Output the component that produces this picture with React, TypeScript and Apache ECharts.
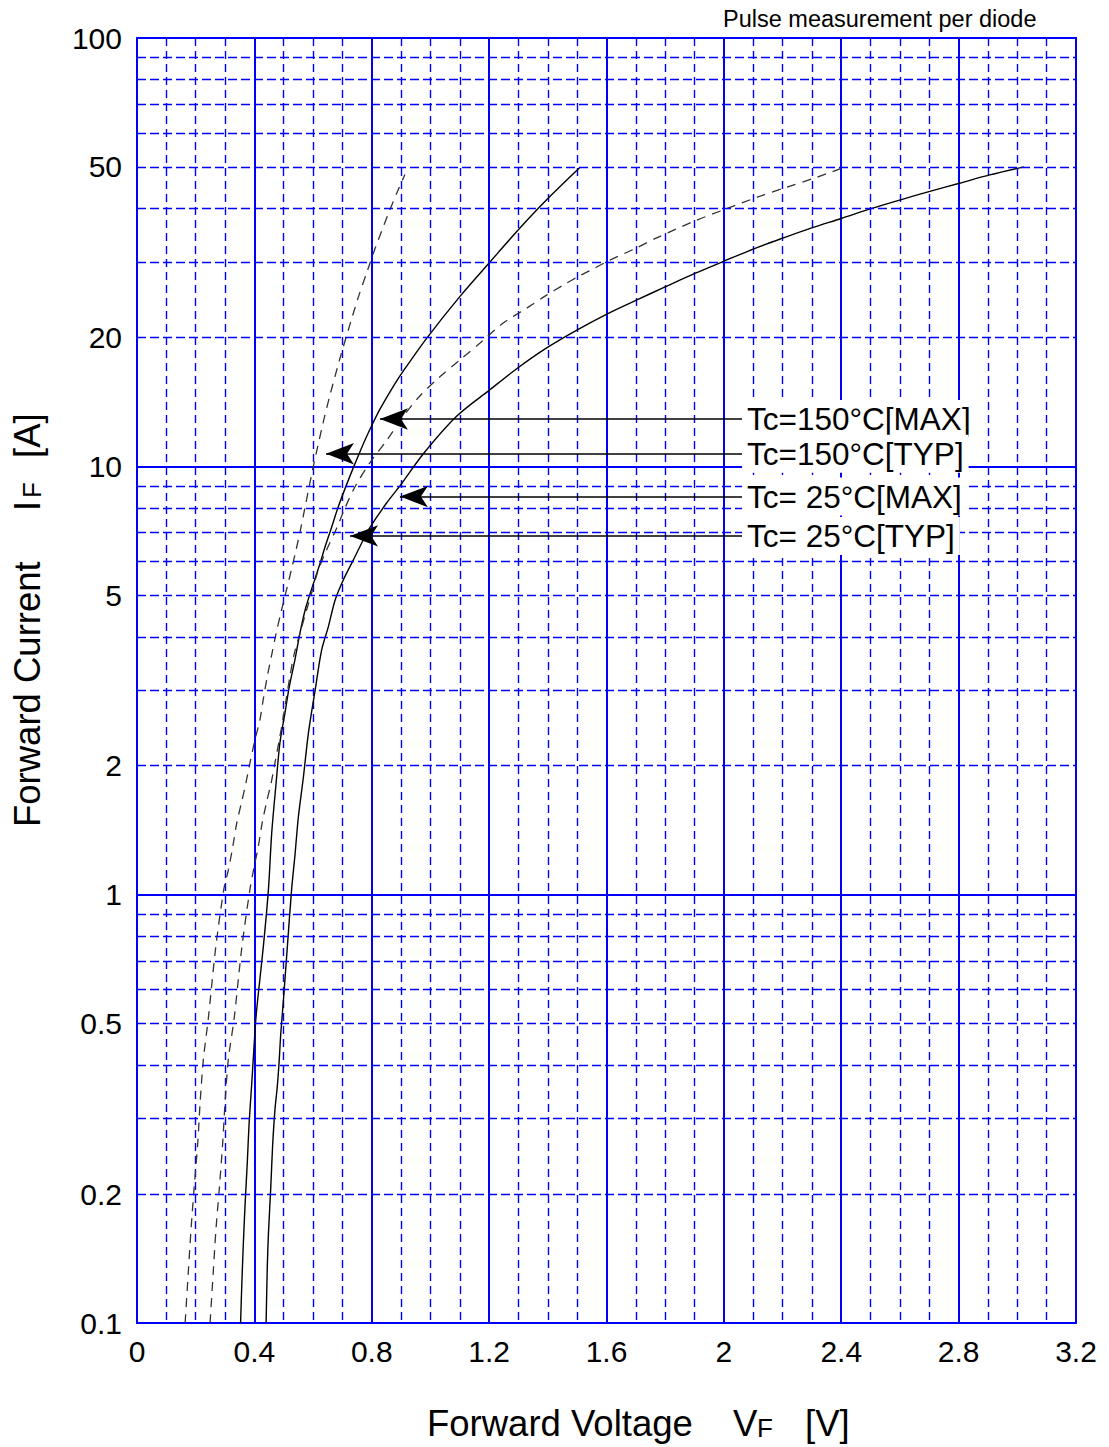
import React, { useEffect, useRef } from "react";
import * as echarts from "echarts";

const W = 1109;
const H = 1447;
const FONT = "'Liberation Sans', Arial, Helvetica, sans-serif";
const BLUE = "#0000ff";

// Axes
const xMin = 0;
const xMax = 3.2;
const xStep = 0.4;
const yMin = 0.1;
const yMax = 100;
const yTickLabels = [0.1, 0.2, 0.5, 1, 2, 5, 10, 20, 50, 100];
const yMinorGrid = [
  0.2, 0.3, 0.4, 0.5, 0.6, 0.7, 0.8, 0.9,
  2, 3, 4, 5, 6, 7, 8, 9,
  20, 30, 40, 50, 60, 70, 80, 90,
];

// Curves [VF (V), IF (A)]
const tc150Typ = [
  [0.164, 0.1], [0.175, 0.132], [0.184, 0.165], [0.195, 0.208], [0.207, 0.263],
  [0.215, 0.326], [0.226, 0.411], [0.243, 0.514], [0.268, 0.75], [0.296, 1.03],
  [0.311, 1.14], [0.326, 1.29], [0.34, 1.47], [0.357, 1.65], [0.371, 1.82],
  [0.385, 2.03], [0.402, 2.3], [0.419, 2.56], [0.43, 2.85], [0.445, 3.26],
  [0.459, 3.63], [0.474, 4.07], [0.49, 4.54], [0.508, 5.1], [0.526, 5.73],
  [0.542, 6.38], [0.558, 7.16], [0.573, 8.05], [0.601, 10.0], [0.635, 12.7],
  [0.658, 14.7], [0.692, 17.9], [0.72, 20.8], [0.754, 24.8], [0.785, 28.6],
  [0.811, 32.2], [0.856, 38.8], [0.89, 44.2], [0.913, 48],
];
const tc150Max = [
  [0.353, 0.1], [0.357, 0.122], [0.362, 0.151], [0.368, 0.187], [0.376, 0.238],
  [0.382, 0.292], [0.391, 0.362], [0.396, 0.411], [0.404, 0.502], [0.411, 0.567],
  [0.43, 0.75], [0.448, 1.03], [0.459, 1.39], [0.474, 1.82], [0.487, 2.26],
  [0.504, 2.65], [0.519, 3.06], [0.538, 3.53], [0.555, 4.07], [0.576, 4.7],
  [0.624, 5.94], [0.641, 6.49], [0.663, 7.2], [0.686, 8.05], [0.726, 9.5],
  [0.766, 11.07], [0.8, 12.45], [0.828, 13.6], [0.874, 15.4], [0.913, 16.9],
  [0.987, 19.9], [1.1, 24.9], [1.203, 30], [1.305, 36], [1.396, 41.9], [1.51, 49.9],
];
const tc25Typ = [
  [0.249, 0.1], [0.26, 0.132], [0.269, 0.165], [0.281, 0.208], [0.292, 0.263],
  [0.3, 0.326], [0.311, 0.411], [0.331, 0.514], [0.357, 0.75], [0.385, 1.03],
  [0.399, 1.16], [0.413, 1.29], [0.425, 1.45], [0.442, 1.65], [0.457, 1.82],
  [0.47, 2.03], [0.485, 2.3], [0.497, 2.56], [0.508, 2.85], [0.521, 3.23],
  [0.535, 3.63], [0.555, 4.07], [0.578, 4.62], [0.598, 5.14], [0.618, 5.73],
  [0.646, 6.38], [0.68, 7.16], [0.709, 8.0], [0.743, 8.96], [0.794, 10.2],
  [0.851, 11.5], [0.908, 13.1], [0.964, 14.6], [1.033, 16.2], [1.1, 17.7],
  [1.18, 19.7], [1.248, 21.6], [1.328, 23.4], [1.396, 25.1], [1.453, 26.5],
  [1.51, 27.9], [1.542, 28.6], [1.603, 30.1], [1.7, 32.3], [1.773, 34.2],
  [1.901, 37.4], [1.999, 39.7], [2.114, 42.5], [2.212, 44.8], [2.309, 47.1], [2.413, 50],
];
const tc25Max = [
  [0.44, 0.1], [0.444, 0.135], [0.448, 0.162], [0.456, 0.208], [0.462, 0.258],
  [0.47, 0.314], [0.478, 0.356], [0.484, 0.404], [0.49, 0.474], [0.499, 0.567],
  [0.512, 0.75], [0.527, 1.03], [0.538, 1.23], [0.55, 1.52], [0.567, 1.88],
  [0.584, 2.38], [0.607, 3], [0.629, 3.72], [0.652, 4.22], [0.675, 4.87],
  [0.703, 5.43], [0.737, 6.04], [0.771, 6.73], [0.794, 7.2], [0.85, 8.2],
  [0.896, 9.0], [0.976, 10.7], [1.09, 13.1], [1.203, 15.1], [1.294, 16.9],
  [1.396, 18.9], [1.499, 20.8], [1.603, 22.7], [1.7, 24.4], [1.798, 26.2],
  [1.901, 28.2], [1.999, 30.1], [2.102, 32.2], [2.2, 34.1], [2.297, 36],
  [2.4, 37.9], [2.504, 40], [2.602, 41.9], [2.699, 43.8], [2.803, 45.8],
  [2.906, 47.9], [3.022, 50],
];

// Annotation arrows
const arrowLabels = ["Tc=150°C[MAX]", "Tc=150°C[TYP]", "Tc= 25°C[MAX]", "Tc= 25°C[TYP]"];
const arrowTipV = [0.828, 0.644, 0.896, 0.726];
const arrowCurrent = [12.9, 10.7, 8.5, 6.88];
const arrowTailV = 2.062;

const GRID = { left: 137, top: 38, width: 939, height: 1285 };

export default function App() {
  const ref = useRef<HTMLDivElement>(null);

  useEffect(() => {
    const chart = echarts.init(ref.current!, null, { renderer: "svg", width: W, height: H });

    const solid = { color: "#000", width: 1.4 };
    const dashed = { color: "#333", width: 1.3, type: [9, 7] as any };

    const curve = (name: string, data: number[][], ls: any) => ({
      type: "line",
      name,
      data,
      showSymbol: false,
      smooth: 0.3,
      silent: true,
      z: 3,
      lineStyle: ls,
    });

    const txt = (x: number, y: number, text: string, fontSize: number, rotation = 0) => ({
      type: "text",
      x,
      y,
      rotation,
      style: { text, fontSize, fontFamily: FONT, fill: "#000", align: "left", verticalAlign: "middle" },
    });

    const option: any = {
      animation: false,
      backgroundColor: "#fff",
      grid: {
        ...GRID,
        show: true,
        borderColor: BLUE,
        borderWidth: 2,
        backgroundColor: "transparent",
      },
      xAxis: {
        type: "value",
        min: xMin,
        max: xMax,
        interval: xStep,
        axisLine: { show: true, lineStyle: { color: BLUE, width: 2 } },
        axisTick: { show: false },
        axisLabel: {
          color: "#000",
          fontSize: 30,
          fontFamily: FONT,
          margin: 28,
          verticalAlign: "middle",
          formatter: (v: number) => String(Math.round(v * 10) / 10),
        },
        splitLine: { show: true, lineStyle: { color: BLUE, width: 2 } },
        minorTick: { show: false, splitNumber: 4 },
        minorSplitLine: { show: true, lineStyle: { color: BLUE, width: 1.4, type: [8, 5] } },
      },
      yAxis: {
        type: "log",
        logBase: 10,
        min: yMin,
        max: yMax,
        axisLine: { show: true, lineStyle: { color: BLUE, width: 2 } },
        axisTick: { show: false },
        axisLabel: {
          customValues: yTickLabels,
          color: "#000",
          fontSize: 30,
          fontFamily: FONT,
          margin: 15,
          padding: [6, 0, 0, 0],
          formatter: (v: number) => String(+Number(v).toPrecision(3)),
        },
        splitLine: { show: true, lineStyle: { color: BLUE, width: 2 } },
        minorSplitLine: { show: false },
      },
      series: [
        {
          type: "line",
          data: [],
          silent: true,
          z: 1,
          markLine: {
            silent: true,
            symbol: ["none", "none"],
            label: { show: false },
            lineStyle: { color: BLUE, width: 1.4, type: [9, 4] },
            emphasis: { disabled: true },
            data: yMinorGrid.map((v) => ({ yAxis: v })),
          },
        },
        curve("Tc=150°C[TYP]", tc150Typ, dashed),
        curve("Tc=150°C[MAX]", tc150Max, solid),
        curve("Tc= 25°C[TYP]", tc25Typ, dashed),
        curve("Tc= 25°C[MAX]", tc25Max, solid),
        {
          type: "line",
          data: [],
          silent: true,
          z: 6,
          markLine: {
            silent: true,
            symbol: ["arrow", "none"],
            symbolSize: [16, 28],
            itemStyle: { color: "#000" },
            lineStyle: { color: "#000", width: 1.5, type: "solid" },
            emphasis: { disabled: true },
            label: {
              show: true,
              position: "end",
              distance: 0,
              formatter: "{b}",
              color: "#000",
              fontSize: 31.5,
              fontFamily: FONT,
              backgroundColor: "#fff",
              padding: [3, 5, 3, 5],
            },
            data: arrowLabels.map((name, i) => [
              { name, coord: [arrowTipV[i], arrowCurrent[i]] },
              { coord: [arrowTailV, arrowCurrent[i]] },
            ]),
          },
        },
      ],
      graphic: [
        txt(723, 18.6, "Pulse measurement per diode", 23.5),
        // X axis title
        txt(427, 1423, "Forward Voltage", 36.5),
        txt(733, 1423, "V", 36.5),
        txt(757, 1428, "F", 26),
        txt(805, 1423, "[V]", 36.5),
        // Y axis title (rotated)
        txt(27, 827, "Forward Current", 36.5, Math.PI / 2),
        txt(27, 511, "I", 36.5, Math.PI / 2),
        txt(32, 498, "F", 26, Math.PI / 2),
        txt(27, 458, "[A]", 36.5, Math.PI / 2),
      ],
    };

    chart.setOption(option);
    return () => chart.dispose();
  }, []);

  return (
    <div
      ref={ref}
      style={{ position: "absolute", left: 0, top: 0, width: W, height: H, background: "#fff" }}
    />
  );
}
